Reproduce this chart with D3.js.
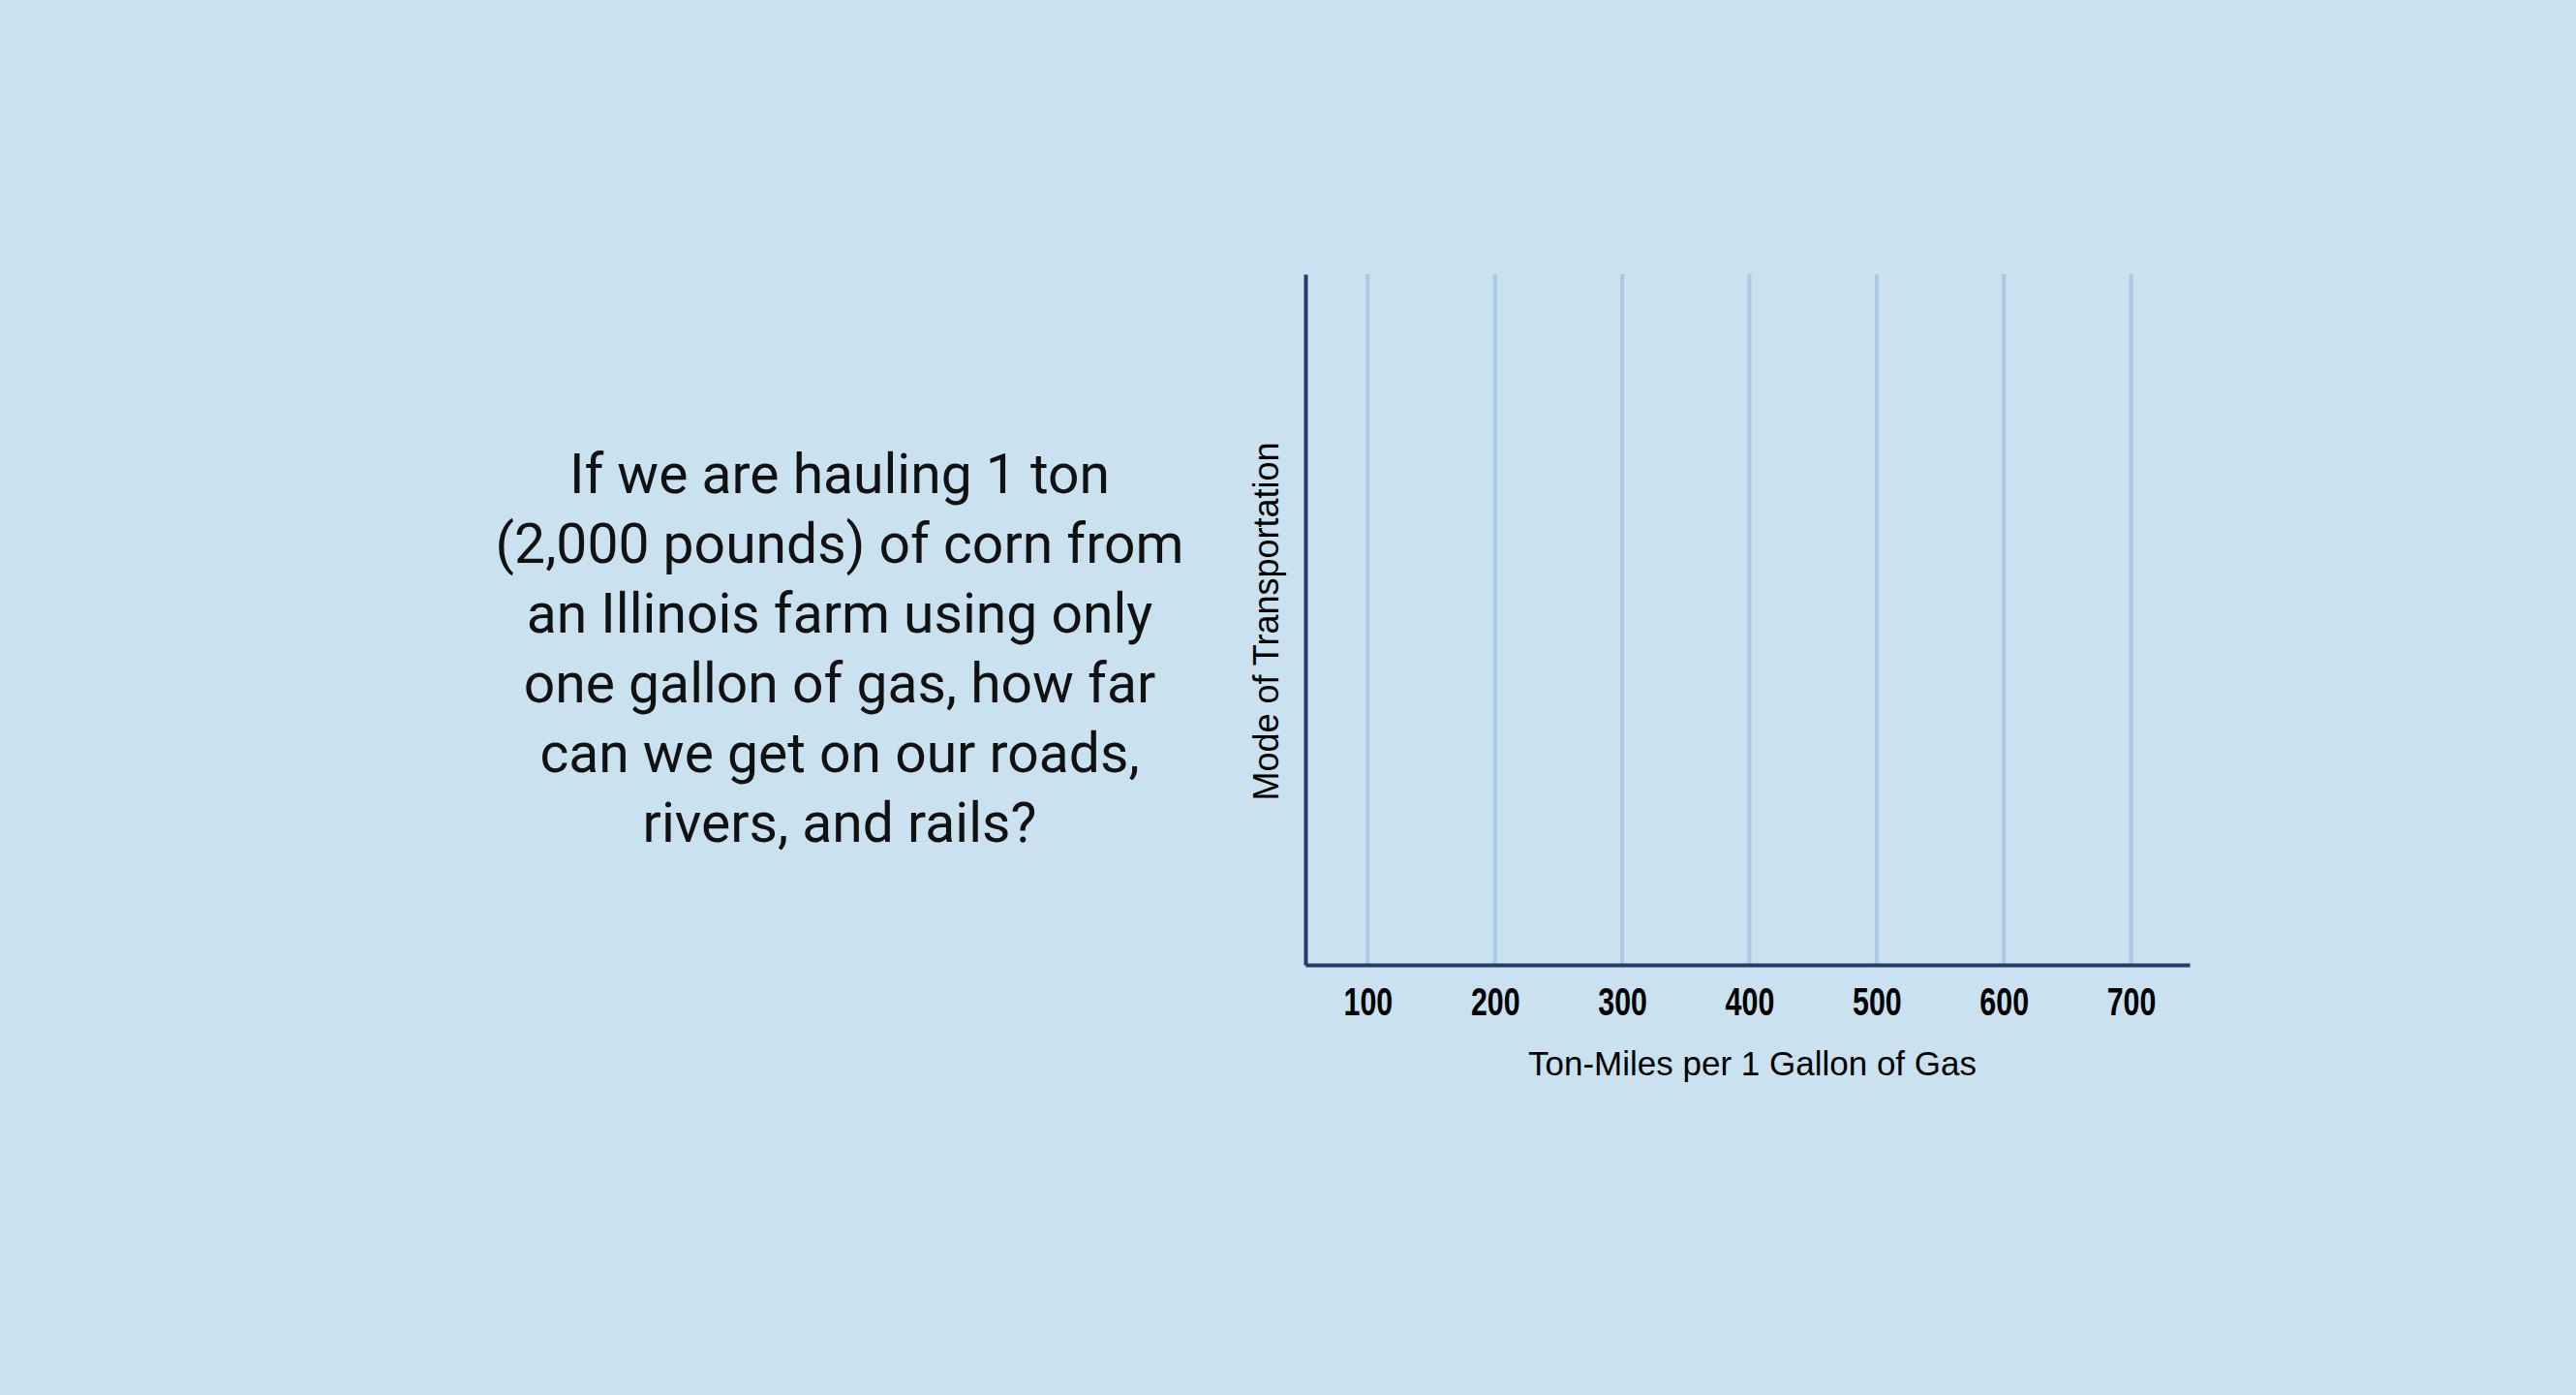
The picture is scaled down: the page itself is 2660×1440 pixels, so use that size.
<!DOCTYPE html>
<html><head><meta charset="utf-8">
<script src="https://cdn.jsdelivr.net/npm/d3@7"></script>
<style>html,body{margin:0;padding:0;background:#cae2f0;} svg{display:block}</style>
</head><body><svg id="c" width="2660" height="1440"></svg>
<script>
const questionLines = [
  "If we are hauling 1 ton",
  "(2,000 pounds) of corn from",
  "an Illinois farm using only",
  "one gallon of gas, how far",
  "can we get on our roads,",
  "rivers, and rails?"
];
const xTicks = [100, 200, 300, 400, 500, 600, 700];
const xDomain = [51, 746];
const modes = [];      // no bars shown yet
const tonMiles = [];
const xAxisTitle = "Ton-Miles per 1 Gallon of Gas";
const yAxisTitle = "Mode of Transportation";

const W = 2660, H = 1440;
const svg = d3.select("#c");
svg.append("rect").attr("width", W).attr("height", H).attr("fill", "#cae2f0");

// question text
const q = svg.append("text")
  .attr("text-anchor", "middle")
  .attr("font-family", "Roboto, sans-serif")
  .attr("font-weight", 400)
  .attr("font-size", 57)
  .attr("fill", "#111");
q.selectAll("tspan").data(questionLines).join("tspan")
  .attr("x", 867)
  .attr("y", (d, i) => 509 + i * 72)
  .text(d => d);

const m = {left: 1348, right: 2261, top: 283, bottom: 996};
const x = d3.scaleLinear().domain(xDomain).range([m.left, m.right]);
const y = d3.scaleBand().domain(modes).range([m.top, m.bottom]).padding(0.3);

// gridlines
svg.append("g").selectAll("line").data(xTicks).join("line")
  .attr("x1", d => x(d)).attr("x2", d => x(d))
  .attr("y1", m.top).attr("y2", m.bottom)
  .attr("stroke", "#a9c9e5").attr("stroke-width", 4);

// bars
svg.append("g").selectAll("rect").data(modes).join("rect")
  .attr("x", m.left).attr("y", d => y(d))
  .attr("width", (d, i) => x(tonMiles[i]) - m.left)
  .attr("height", y.bandwidth())
  .attr("fill", "#1f3d6b");

// x axis
const gx = svg.append("g").attr("transform", `translate(0,${m.bottom})`)
  .call(d3.axisBottom(x).tickValues(xTicks).tickSize(0).tickSizeOuter(0).tickPadding(24).tickFormat(d3.format("d")));
gx.select(".domain").attr("stroke", "#1f3e6c").attr("stroke-width", 4);
gx.selectAll(".tick text")
  .attr("font-family", "'Liberation Sans Narrow', 'Arial Narrow', sans-serif")
  .attr("font-weight", 700)
  .attr("font-size", 40)
  .attr("fill", "#000")
  .attr("transform", "scale(0.76,1)");

// y axis
const gy = svg.append("g").attr("transform", `translate(${m.left},0)`)
  .call(d3.axisLeft(y).tickSize(0).tickSizeOuter(0));
gy.select(".domain").attr("stroke", "#1f3e6c").attr("stroke-width", 4);

// axis titles
svg.append("text")
  .attr("x", (m.left + m.right) / 2 + 5).attr("y", 1110)
  .attr("text-anchor", "middle")
  .attr("font-family", "'Liberation Sans', Arial, sans-serif")
  .attr("font-size", 35).attr("fill", "#000")
  .text(xAxisTitle);
svg.append("text")
  .attr("transform", `translate(1320,${(m.top + m.bottom) / 2 + 2}) rotate(-90)`)
  .attr("text-anchor", "middle")
  .attr("font-family", "'Liberation Sans', Arial, sans-serif")
  .attr("font-size", 36).attr("fill", "#000")
  .text(yAxisTitle);
</script></body></html>
